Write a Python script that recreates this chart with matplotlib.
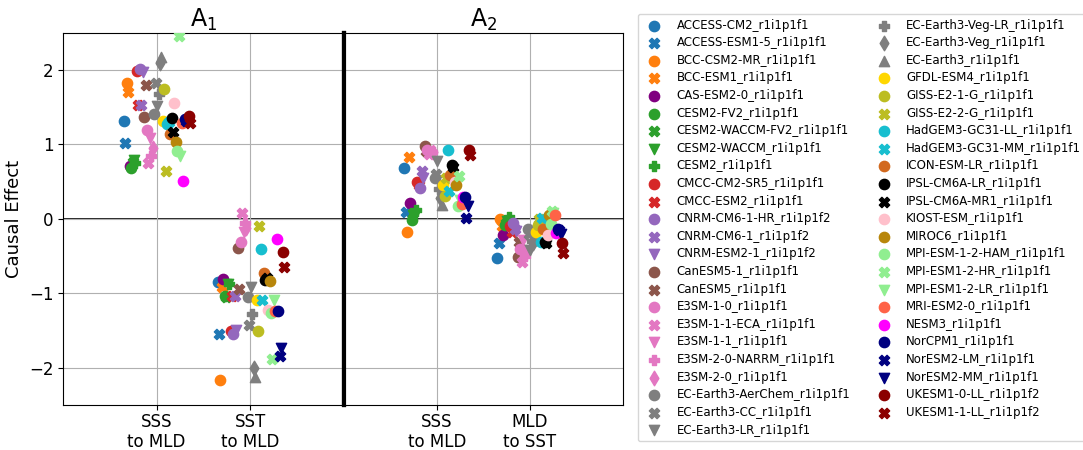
import numpy as np
import matplotlib.pyplot as plt

models = [
    "ACCESS-CM2_r1i1p1f1", "ACCESS-ESM1-5_r1i1p1f1", "BCC-CSM2-MR_r1i1p1f1", "BCC-ESM1_r1i1p1f1",
    "CAS-ESM2-0_r1i1p1f1", "CESM2-FV2_r1i1p1f1", "CESM2-WACCM-FV2_r1i1p1f1", "CESM2-WACCM_r1i1p1f1",
    "CESM2_r1i1p1f1", "CMCC-CM2-SR5_r1i1p1f1", "CMCC-ESM2_r1i1p1f1", "CNRM-CM6-1-HR_r1i1p1f2",
    "CNRM-CM6-1_r1i1p1f2", "CNRM-ESM2-1_r1i1p1f2", "CanESM5-1_r1i1p1f1", "CanESM5_r1i1p1f1",
    "E3SM-1-0_r1i1p1f1", "E3SM-1-1-ECA_r1i1p1f1", "E3SM-1-1_r1i1p1f1", "E3SM-2-0-NARRM_r1i1p1f1",
    "E3SM-2-0_r1i1p1f1", "EC-Earth3-AerChem_r1i1p1f1", "EC-Earth3-CC_r1i1p1f1", "EC-Earth3-LR_r1i1p1f1",
    "EC-Earth3-Veg-LR_r1i1p1f1", "EC-Earth3-Veg_r1i1p1f1", "EC-Earth3_r1i1p1f1", "GFDL-ESM4_r1i1p1f1",
    "GISS-E2-1-G_r1i1p1f1", "GISS-E2-2-G_r1i1p1f1", "HadGEM3-GC31-LL_r1i1p1f1", "HadGEM3-GC31-MM_r1i1p1f1",
    "ICON-ESM-LR_r1i1p1f1", "IPSL-CM6A-LR_r1i1p1f1", "IPSL-CM6A-MR1_r1i1p1f1", "KIOST-ESM_r1i1p1f1",
    "MIROC6_r1i1p1f1", "MPI-ESM-1-2-HAM_r1i1p1f1", "MPI-ESM1-2-HR_r1i1p1f1", "MPI-ESM1-2-LR_r1i1p1f1",
    "MRI-ESM2-0_r1i1p1f1", "NESM3_r1i1p1f1", "NorCPM1_r1i1p1f1", "NorESM2-LM_r1i1p1f1",
    "NorESM2-MM_r1i1p1f1", "UKESM1-0-LL_r1i1p1f2", "UKESM1-1-LL_r1i1p1f2",
]

colors = [
    "tab:blue", "tab:blue", "tab:orange", "tab:orange", "purple", "tab:green", "tab:green", "tab:green",
    "tab:green", "tab:red", "tab:red", "tab:purple", "tab:purple", "tab:purple", "tab:brown", "tab:brown",
    "tab:pink", "tab:pink", "tab:pink", "tab:pink", "tab:pink", "tab:gray", "tab:gray", "tab:gray",
    "tab:gray", "tab:gray", "tab:gray", "gold", "tab:olive", "tab:olive", "tab:cyan", "tab:cyan",
    "chocolate", "black", "black", "pink", "darkgoldenrod", "lightgreen", "lightgreen", "lightgreen",
    "tomato", "magenta", "navy", "navy", "navy", "darkred", "darkred",
]

markers = [
    "o", "X", "o", "X", "o", "o", "X", "v", "P", "o", "X", "o", "X", "v", "o", "X",
    "o", "X", "v", "P", "d", "o", "X", "v", "P", "d", "^", "o", "o", "X", "o", "X",
    "o", "o", "X", "o", "o", "o", "X", "v", "o", "o", "o", "X", "v", "o", "X",
]

# A1: SSS -> MLD, SST -> MLD
a1_sss_mld = [
    1.31, 1.02, 1.83, 1.70, 0.71, 0.69, 0.77, 0.79, 0.75, 1.99, 1.53, 2.01, 1.53, 1.98, 1.37, 1.80,
    1.19, 0.75, 1.09, 0.84, 0.95, 1.41, 1.82, 1.52, 1.68, 2.10, 2.17, 1.31, 1.75, 0.64, 1.28, 1.30,
    1.14, 1.36, 1.17, 1.56, 1.04, 0.91, 2.46, 0.84, 1.29, 0.51, 1.34, 1.31, 1.30, 1.38, 1.29,
]
a1_sst_mld = [
    -0.85, -1.54, -2.16, -0.92, -0.81, -1.03, -1.05, -0.88, -0.87, -1.51, -1.04, -1.55, -1.04, -1.49, -0.39, -0.94,
    -0.31, 0.08, -0.17, -0.06, -0.12, -1.05, -1.43, -0.91, -1.28, -2.00, -2.13, -1.09, -1.51, -0.10, -0.40, -1.09,
    -0.73, -0.82, -0.80, -1.23, -0.84, -1.27, -1.88, -1.09, -1.24, -0.27, -1.24, -1.84, -1.73, -0.45, -0.64,
]

# A2: SSS -> MLD, MLD -> SST
a2_sss_mld = [
    0.68, 0.09, -0.17, 0.83, 0.21, -0.01, 0.08, 0.03, 0.12, 0.50, 0.45, 0.41, 0.65, 0.55, 0.98, 0.91,
    0.93, 0.87, 0.90, 0.90, 0.90, 0.55, 0.60, 0.78, 0.40, 0.28, 0.19, 0.46, 0.31, 0.55, 0.93, 0.37,
    0.59, 0.73, 0.70, 0.50, 0.45, 0.18, 0.57, 0.25, 0.20, 0.30, 0.30, 0.01, 0.17, 0.93, 0.86,
]
a2_mld_sst = [
    -0.53, -0.33, 0.00, -0.10, -0.22, -0.08, -0.06, -0.03, 0.03, -0.10, -0.18, -0.06, -0.14, -0.16, -0.51, -0.31,
    -0.40, -0.58, -0.28, -0.50, -0.45, -0.13, -0.20, -0.42, -0.30, -0.33, -0.28, -0.17, -0.08, 0.00, -0.31, 0.01,
    -0.14, -0.31, -0.33, -0.22, 0.05, -0.07, 0.10, 0.08, 0.05, -0.19, -0.13, -0.15, -0.20, -0.32, -0.46,
]

panels = [
    ("A$_1$", ["SSS\nto MLD", "SST\nto MLD"], [a1_sss_mld, a1_sst_mld]),
    ("A$_2$", ["SSS\nto MLD", "MLD\nto SST"], [a2_sss_mld, a2_mld_sst]),
]

offsets = np.linspace(-0.35, 0.36, len(models))

fig = plt.figure(figsize=(10.83, 4.5), dpi=100)
ax1 = fig.add_axes([63 / 1083, 0.1, 281 / 1083, 0.827])
ax2 = fig.add_axes([344 / 1083, 0.1, 279 / 1083, 0.827], sharey=ax1)

for ax, (title, labels, series) in zip([ax1, ax2], panels):
    ax.grid(True, color="#b0b0b0", linewidth=0.8, zorder=0)
    ax.axhline(0, color="black", linewidth=1.2, zorder=1)
    for j, vals in enumerate(series):
        for i in range(len(models)):
            ax.scatter(j + offsets[i], vals[i], color=colors[i], marker=markers[i],
                       s=55, zorder=3, label=models[i] if j == 0 else None)
    ax.set_xlim(-1, 2)
    ax.set_xticks([0, 1])
    ax.set_xticklabels(labels, fontsize=12)
    ax.tick_params(axis="x", pad=2)
    ax.set_title(title, fontsize=17, pad=2)
    ax.tick_params(axis="y", labelsize=12)

ax1.set_ylim(-2.5, 2.5)
ax1.set_yticks([-2, -1, 0, 1, 2])
ax1.set_ylabel("Causal Effect", fontsize=13)
ax2.tick_params(axis="y", left=False, labelleft=False)
ax1.spines["right"].set_linewidth(3)
ax2.spines["left"].set_linewidth(3)

handles, names = ax1.get_legend_handles_labels()
fig.legend(handles, names, loc="upper left", bbox_to_anchor=(632 / 1083, 1 - 8 / 450),
           ncol=2, fontsize=8.5, handletextpad=0.9, columnspacing=1.8, labelspacing=0.39)

fig.savefig("out.png", dpi=100)
